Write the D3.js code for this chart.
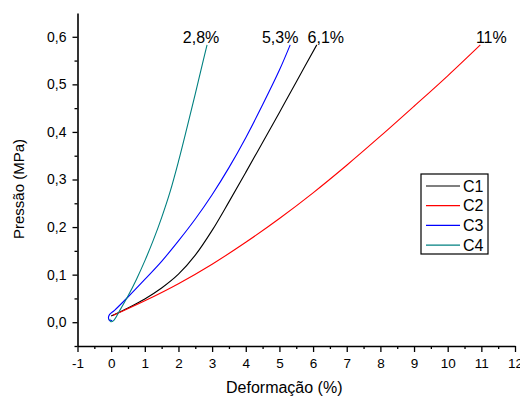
<!DOCTYPE html>
<html>
<head>
<meta charset="utf-8">
<script src="https://cdn.jsdelivr.net/npm/d3@7"></script>
<style>
  body { margin: 0; background: #fff; }
  svg { display: block; font-family: "Liberation Sans", Arial, sans-serif; }
</style>
</head>
<body>
<div id="chart"></div>
<script>
// series data: [deformation %, pressure MPa]
const seriesNames = ["C1", "C2", "C3", "C4"];
const seriesColors = ["#000000", "#ff0000", "#0000ff", "#008080"];

const c1 = [[0.0,0.013],[0.5,0.03],[1.0,0.049],[1.5,0.072],[2.0,0.101],[2.5,0.141],[3.0,0.193],
  [3.5,0.253],[4.0,0.315],[4.5,0.378],[5.0,0.441],[5.5,0.505],[6.11,0.583]];
const c2 = [[0.05,0.014],[1.0,0.045],[2.0,0.081],[3.0,0.122],[4.0,0.168],[5.0,0.218],[6.0,0.272],
  [7.0,0.33],[8.0,0.391],[9.0,0.454],[10.0,0.518],[10.97,0.583]];
const c3 = [[0.03,0.004],[-0.04,0.003],[-0.08,0.009],[-0.05,0.016],[0.1,0.025],[0.5,0.053],[1.0,0.09],
  [1.5,0.128],[2.0,0.171],[2.5,0.217],[3.0,0.268],[3.5,0.325],[4.0,0.388],[4.5,0.457],[5.0,0.53],[5.32,0.583]];
const c4 = [[-0.04,0.007],[-0.01,0.001],[0.08,0.004],[0.25,0.024],[0.5,0.055],[0.75,0.09],[1.0,0.129],
  [1.25,0.172],[1.5,0.22],[1.75,0.274],[2.0,0.338],[2.25,0.408],[2.5,0.48],[2.75,0.554],[2.85,0.583]];

const seriesData = [c1, c2, c3, c4];
const endLabels = ["6,1%", "11%", "5,3%", "2,8%"];
const labelDx = [9, 11, -10, -6];

const xTicks = d3.range(-1, 13, 1);
const yTicks = [0.0, 0.1, 0.2, 0.3, 0.4, 0.5, 0.6];

const W = 520, H = 399;
const margin = { top: 13, right: 5, bottom: 53, left: 77.5 };
const width = W - margin.left - margin.right;
const height = H - margin.top - margin.bottom;

const fmt = d => d3.format(".1f")(d).replace(".", ",");

const svg = d3.select("#chart").append("svg")
    .attr("width", W)
    .attr("height", H);

const g = svg.append("g")
    .attr("transform", `translate(${margin.left},${margin.top})`);

const x = d3.scaleLinear().domain([-1, 12]).range([0, width]);
const y = d3.scaleLinear().domain([-0.05, 0.65]).range([height, 0]);

// minor ticks first
g.append("g")
    .attr("transform", `translate(0,${height})`)
    .call(d3.axisBottom(x).tickValues(d3.range(-0.5, 12, 1)).tickSize(3).tickFormat(""))
    .call(a => a.select(".domain").remove())
    .selectAll("line").attr("stroke-width", 1.3);
g.append("g")
    .call(d3.axisLeft(y).tickValues(d3.range(-0.05, 0.65, 0.1)).tickSize(3).tickFormat(""))
    .call(a => a.select(".domain").remove())
    .selectAll("line").attr("stroke-width", 1.3);

// X axis
const xAxis = g.append("g")
    .attr("transform", `translate(0,${height})`)
    .call(d3.axisBottom(x).tickValues(xTicks).tickSize(6).tickSizeOuter(0).tickPadding(6).tickFormat(d => String(d)));
xAxis.select(".domain").attr("stroke-width", 1.6);
xAxis.selectAll("line").attr("stroke-width", 1.3);
xAxis.selectAll("text").style("font-size", "13.5px").attr("fill", "#000");

// Y axis
const yAxis = g.append("g")
    .call(d3.axisLeft(y).tickValues(yTicks).tickSize(5).tickSizeOuter(0).tickPadding(6).tickFormat(fmt));
yAxis.select(".domain").attr("stroke-width", 1.6);
yAxis.selectAll("line").attr("stroke-width", 1.3);
yAxis.selectAll("text").style("font-size", "14px").attr("fill", "#000");

// axis titles
svg.append("text")
    .attr("x", margin.left + width / 2 - 12)
    .attr("y", 393)
    .attr("text-anchor", "middle")
    .style("font-size", "16px")
    .text("Deformação (%)");

svg.append("text")
    .attr("transform", `translate(24,${189}) rotate(-90)`)
    .attr("text-anchor", "middle")
    .style("font-size", "15px")
    .text("Pressão (MPa)");

// curves
const line = d3.line()
    .x(d => x(d[0]))
    .y(d => y(d[1]))
    .curve(d3.curveCatmullRom.alpha(0.5));

g.selectAll("path.curve")
  .data(seriesData)
  .enter().append("path")
    .attr("class", "curve")
    .attr("d", line)
    .attr("fill", "none")
    .attr("stroke", (d, i) => seriesColors[i])
    .attr("stroke-width", 1.1);

// end labels
g.selectAll("text.end")
  .data(seriesData)
  .enter().append("text")
    .attr("class", "end")
    .attr("x", (d, i) => x(d[d.length - 1][0]) + labelDx[i])
    .attr("y", d => y(d[d.length - 1][1]) - 2)
    .attr("text-anchor", "middle")
    .style("font-size", "16px")
    .text((d, i) => endLabels[i]);

// legend
const legend = svg.append("g").attr("transform", "translate(421,174)");
legend.append("rect")
    .attr("width", 67)
    .attr("height", 80)
    .attr("fill", "#fff")
    .attr("stroke", "#000")
    .attr("stroke-width", 1.2);

const item = legend.selectAll("g.item")
  .data(seriesNames)
  .enter().append("g")
    .attr("class", "item")
    .attr("transform", (d, i) => `translate(0,${12 + i * 19.7})`);
item.append("line")
    .attr("x1", 5).attr("x2", 39)
    .attr("stroke", (d, i) => seriesColors[i])
    .attr("stroke-width", 1.2);
item.append("text")
    .attr("x", 42)
    .attr("dy", "0.36em")
    .style("font-size", "16px")
    .text(d => d);
</script>
</body>
</html>
